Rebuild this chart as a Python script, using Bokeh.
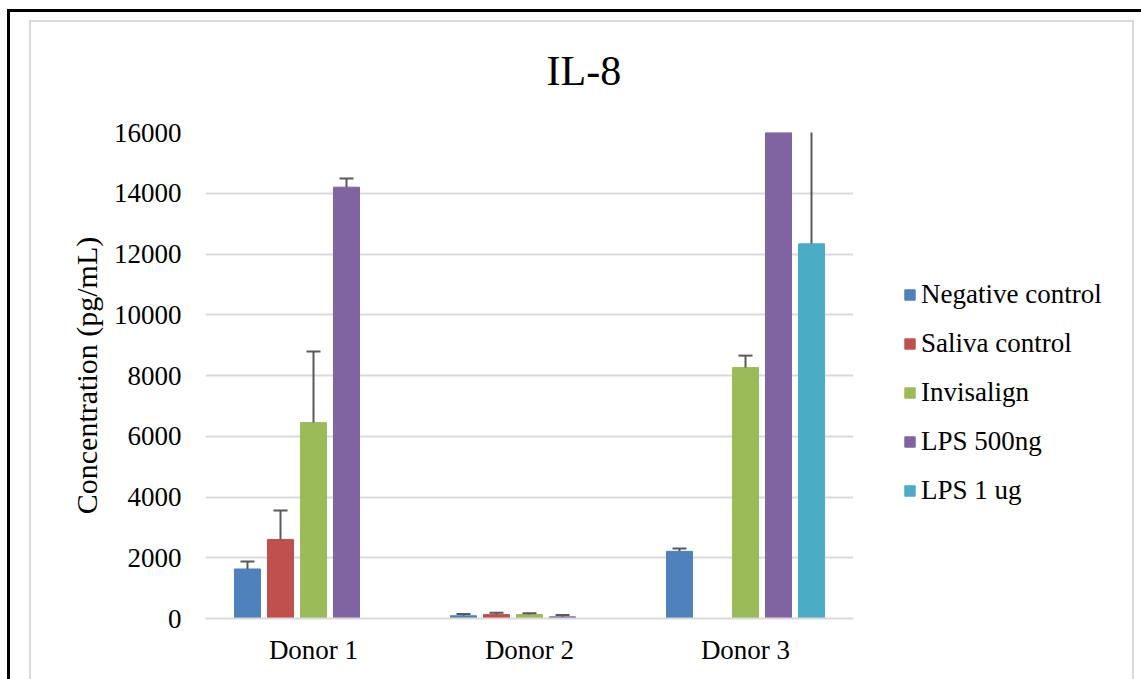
import math
from bokeh.plotting import figure
from bokeh.layouts import row
from bokeh.models import (ColumnDataSource, FactorRange, Range1d, FixedTicker,
                          Legend, LegendItem)
from bokeh.transform import dodge
from bokeh.embed import file_html
from bokeh.resources import INLINE

nan = float("nan")

# ---- data ----
donors = ["Donor 1", "Donor 2", "Donor 3"]
series = ["Negative control", "Saliva control", "Invisalign", "LPS 500ng", "LPS 1 ug"]
neg_control = [1630, 90, 2210]
neg_control_err = [245, 55, 95]
saliva_control = [2600, 130, nan]
saliva_control_err = [955, 60, nan]
invisalign = [6450, 130, 8260]
invisalign_err = [2340, 45, 395]
lps_500ng = [14200, 55, 16000]
lps_500ng_err = [285, 60, nan]
lps_1ug = [nan, nan, 12335]
lps_1ug_err = [nan, nan, 4500]
y_ticks = [0, 2000, 4000, 6000, 8000, 10000, 12000, 14000, 16000]

colors = ["#4F81BD", "#C0504D", "#9BBB59", "#8064A2", "#4BACC6"]
values = [neg_control, saliva_control, invisalign, lps_500ng, lps_1ug]
errors = [neg_control_err, saliva_control_err, invisalign_err, lps_500ng_err, lps_1ug_err]

FONT = "Liberation Serif"

p = figure(width=880, height=679, x_range=FactorRange(factors=donors, range_padding=0),
           y_range=Range1d(0, 16000), output_backend="svg", toolbar_location=None,
           min_border_left=205, min_border_right=27, min_border_top=132,
           min_border_bottom=61)
p.outline_line_color = None
p.background_fill_color = "white"
p.border_fill_alpha = 0

data = {"donor": donors}
for i in range(5):
    data[f"v{i}"] = values[i]
    data[f"u{i}"] = [v + e for v, e in zip(values[i], errors[i])]
src = ColumnDataSource(data)

pitch = 0.1528
width = 0.1204
for i in range(5):
    off = (i - 2) * pitch
    xd = dodge("donor", off, range=p.x_range)
    p.vbar(x=xd, top=f"v{i}", width=width, bottom=0, source=src,
           fill_color=colors[i], line_color=colors[i], line_width=1)
    p.segment(x0=xd, y0=f"v{i}", x1=xd, y1=f"u{i}", source=src,
              line_color="#595959", line_width=2)
    p.scatter(x=xd, y=f"u{i}", marker="dash", size=14, source=src,
              line_color="#595959", line_width=2)

# axes
p.yaxis.ticker = FixedTicker(ticks=y_ticks)
p.yaxis.axis_line_color = None
p.yaxis.major_tick_line_color = None
p.yaxis.major_tick_out = 0
p.yaxis.major_tick_in = 0
p.yaxis.minor_tick_line_color = None
p.yaxis.major_label_text_font = FONT
p.yaxis.major_label_text_font_size = "27px"
p.yaxis.major_label_text_color = "black"
p.yaxis.major_label_standoff = 24
p.yaxis.axis_label = "Concentration (pg/mL)"
p.yaxis.axis_label_text_font = FONT
p.yaxis.axis_label_text_font_size = "30px"
p.yaxis.axis_label_text_font_style = "normal"
p.yaxis.axis_label_text_color = "black"
p.yaxis.axis_label_standoff = 8

p.xaxis.axis_line_color = "#d9d9d9"
p.xaxis.axis_line_width = 2
p.xaxis.major_tick_line_color = None
p.xaxis.major_tick_out = 0
p.xaxis.major_tick_in = 0
p.xaxis.minor_tick_line_color = None
p.xaxis.major_label_text_font = FONT
p.xaxis.major_label_text_font_size = "27px"
p.xaxis.major_label_text_color = "black"
p.xaxis.major_label_standoff = 16

p.xgrid.grid_line_color = None
p.ygrid.grid_line_color = "#d9d9d9"
p.ygrid.grid_line_width = 2

# title
p.title.text = "IL-8"
p.title.text_font = FONT
p.title.text_font_size = "42px"
p.title.text_font_style = "normal"
p.title.text_color = "black"
p.title.align = "left"
p.title.offset = 341
p.title.standoff = 77

# legend panel (separate canvas to the right of the plot)
pl = figure(width=261, height=679, output_backend="svg", toolbar_location=None,
            x_axis_type=None, y_axis_type=None, min_border=0,
            x_range=Range1d(0, 1), y_range=Range1d(0, 1))
pl.outline_line_color = None
pl.background_fill_alpha = 0
pl.border_fill_alpha = 0
pl.grid.grid_line_color = None
items = []
for i in range(5):
    r = pl.vbar(x=[0.5], top=[nan], bottom=[0], width=0.1,
                fill_color=colors[i], line_color=colors[i])
    items.append(LegendItem(label=series[i], renderers=[r]))
legend = Legend(items=items, location=(23, 112), padding=0, margin=0,
                glyph_width=13, glyph_height=13, label_standoff=5, spacing=18,
                label_text_font=FONT, label_text_font_size="27px",
                label_text_color="black", border_line_color=None,
                background_fill_alpha=0)
pl.add_layout(legend, "center")

layout = row(p, pl, spacing=0, width=1141, height=679)
layout.styles = {
    "background": ("linear-gradient(#000,#000) 7px 9px / 3px 100% no-repeat, "
                   "linear-gradient(#000,#000) 7px 9px / 100% 3px no-repeat, "
                   "linear-gradient(#d9d9d9,#d9d9d9) 29px 20px / 2px 100% no-repeat, "
                   "linear-gradient(#d9d9d9,#d9d9d9) 29px 20px / 1105px 2px no-repeat, "
                   "linear-gradient(#d9d9d9,#d9d9d9) 1132px 20px / 2px 100% no-repeat, "
                   "#ffffff"),
}

open("out.html", "w").write(file_html(layout, INLINE))
